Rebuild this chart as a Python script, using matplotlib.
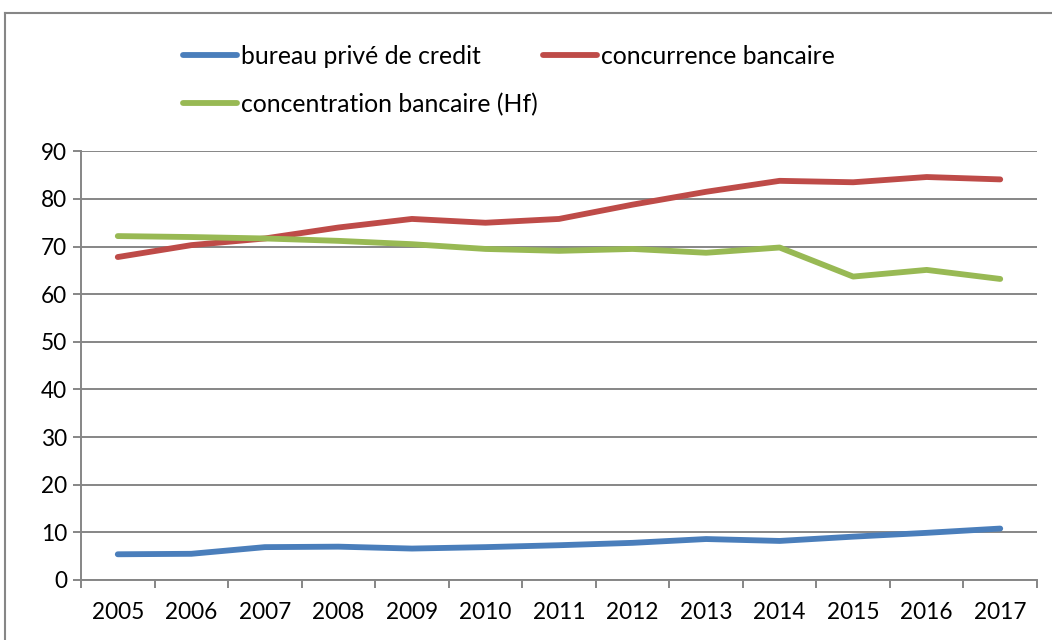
import numpy as np
import matplotlib
matplotlib.use("Agg")
import matplotlib.pyplot as plt
from matplotlib.lines import Line2D

plt.rcParams['font.family'] = ['Lato', 'DejaVu Sans']

annees = ['2005', '2006', '2007', '2008', '2009', '2010', '2011',
          '2012', '2013', '2014', '2015', '2016', '2017']
bureau_prive = [5.4, 5.5, 6.9, 7.0, 6.6, 6.9, 7.3, 7.8, 8.6, 8.2, 9.1, 9.9, 10.8]
concurrence = [67.8, 70.3, 71.7, 74.0, 75.8, 75.0, 75.8, 78.8, 81.5, 83.8, 83.5, 84.6, 84.1]
concentration = [72.2, 72.0, 71.7, 71.2, 70.5, 69.5, 69.1, 69.5, 68.7, 69.8, 63.7, 65.1, 63.2]

gris = '#868686'
fig = plt.figure(figsize=(10.52, 6.40), dpi=100)
ax = fig.add_axes([81/1052, 60/640, (1037-81)/1052, (580-151.3)/640])

x = np.arange(len(annees))
lw = 4.2
l1, = ax.plot(x, bureau_prive, color='#4A7EBB', lw=lw, solid_capstyle='round', solid_joinstyle='round')
l2, = ax.plot(x, concurrence, color='#BE4B48', lw=lw, solid_capstyle='round', solid_joinstyle='round')
l3, = ax.plot(x, concentration, color='#98B954', lw=lw, solid_capstyle='round', solid_joinstyle='round')

ax.set_xlim(-0.5, len(annees) - 0.5)
ax.set_ylim(0, 90)
ax.set_yticks(np.arange(0, 91, 10))
ax.yaxis.grid(True, color=gris, lw=1.4)
ax.set_axisbelow(True)

ax.set_xticks(x)
ax.set_xticklabels(annees)
ax.set_xticks(np.arange(-0.5, len(annees)), minor=True)
ax.tick_params(axis='x', which='major', length=0, pad=16, labelsize=16.3)
ax.tick_params(axis='x', which='minor', length=6, width=1.4, color=gris, direction='out')
ax.tick_params(axis='y', length=6, width=1.4, color=gris, pad=4, labelsize=16.3)

for s in ['top', 'right']:
    ax.spines[s].set_visible(False)
for s in ['left', 'bottom']:
    ax.spines[s].set_color(gris)
    ax.spines[s].set_linewidth(1.4)

leg = fig.legend([l1, l3, l2],
                 ['bureau privé de credit', 'concentration bancaire (Hf)', 'concurrence bancaire'],
                 ncol=2, loc='upper left', bbox_to_anchor=(183/1052, 1 - 45/640),
                 frameon=False, fontsize=17.8, handlelength=2.2, handletextpad=0.16,
                 columnspacing=0.2, labelspacing=1.0, borderpad=0, borderaxespad=0)

# cadre du graphique
fig.add_artist(Line2D([5/1052, 5/1052], [0, 1 - 13/640], color=gris, lw=1.5))
fig.add_artist(Line2D([5/1052, 1], [1 - 13/640, 1 - 13/640], color=gris, lw=1.5))

fig.savefig('out.png', dpi=100)
